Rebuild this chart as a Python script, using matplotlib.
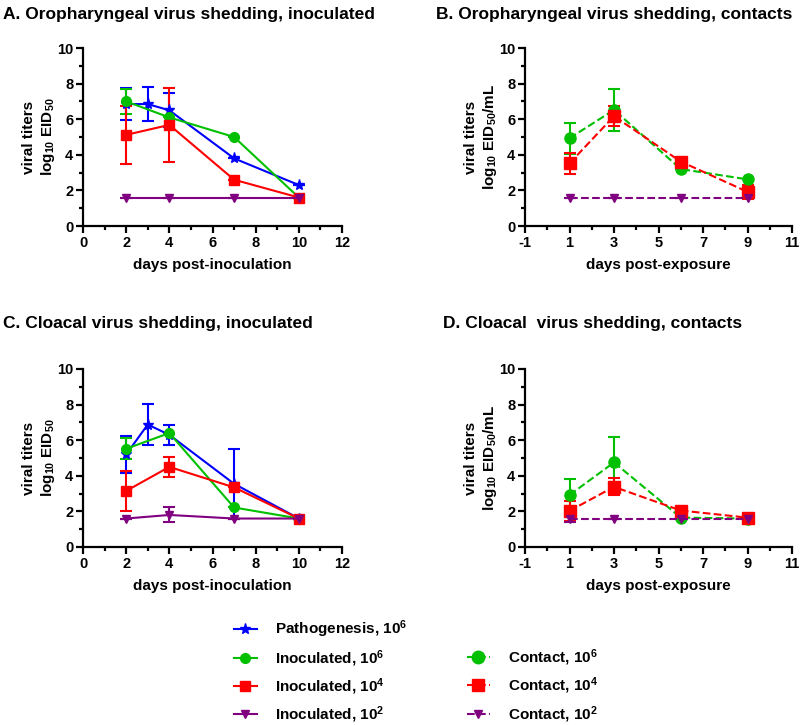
import matplotlib
matplotlib.use('Agg')
import matplotlib.pyplot as plt
from matplotlib.lines import Line2D
from matplotlib.ticker import MultipleLocator

plt.rcParams['font.family'] = ['Liberation Sans', 'DejaVu Sans']
plt.rcParams['font.weight'] = 'bold'
plt.rcParams['mathtext.fontset'] = 'custom'
plt.rcParams['mathtext.default'] = 'bf'
plt.rcParams['mathtext.bf'] = 'Liberation Sans:bold'
plt.rcParams['mathtext.rm'] = 'Liberation Sans:bold'
plt.rcParams['axes.unicode_minus'] = False

BLUE = '#0000ff'
GREEN = '#00c000'
RED = '#ff0000'
PURPLE = '#800080'

# --- data ---
inoc_days = [2, 4, 7, 10]
patho_days = [2, 3, 4, 7, 10]
contact_days = [1, 3, 6, 9]

# A. oropharyngeal, inoculated
a_patho = [6.85, 6.85, 6.5, 3.8, 2.3]
a_patho_err = [0.9, 0.95, 0.95, 0, 0]
a_inoc6 = [7.0, 6.1, 5.0, 1.6]
a_inoc6_err = [0.68, 0, 0, 0]
a_inoc4 = [5.12, 5.68, 2.6, 1.6]
a_inoc4_err = [1.63, 2.1, 0, 0]
a_inoc2 = [1.6, 1.6, 1.6, 1.6]
a_inoc2_err = [0, 0, 0, 0]

# B. oropharyngeal, contacts
b_cont6 = [4.93, 6.52, 3.2, 2.62]
b_cont6_err = [0.88, 1.2, 0, 0]
b_cont4 = [3.52, 6.17, 3.62, 1.92]
b_cont4_err = [0.6, 0.55, 0, 0.38]
b_cont2 = [1.6, 1.6, 1.6, 1.6]
b_cont2_err = [0, 0, 0, 0]

# C. cloacal, inoculated
c_patho = [5.2, 6.88, 6.3, 3.55, 1.6]
c_patho_err = [1.03, 1.13, 0.57, 1.95, 0]
c_inoc6 = [5.52, 6.4, 2.22, 1.6]
c_inoc6_err = [0.6, 0, 0, 0]
c_inoc4 = [3.15, 4.5, 3.35, 1.6]
c_inoc4_err = [1.1, 0.57, 0, 0]
c_inoc2 = [1.6, 1.8, 1.6, 1.6]
c_inoc2_err = [0, 0.42, 0, 0]

# D. cloacal, contacts
d_cont6 = [2.92, 4.75, 1.65, 1.6]
d_cont6_err = [0.88, 1.42, 0, 0]
d_cont4 = [2.03, 3.38, 2.05, 1.65]
d_cont4_err = [0.58, 0.48, 0, 0]
d_cont2 = [1.6, 1.6, 1.6, 1.6]
d_cont2_err = [0.2, 0, 0, 0]

fig = plt.figure(figsize=(8, 7.25), dpi=100)

W = 800.0
H = 725.0
def place(x0, x1, ytop, ybot):
    return fig.add_axes([x0 / W, 1 - ybot / H, (x1 - x0) / W, (ybot - ytop) / H])

axA = place(83, 342, 48, 226)
axB = place(525, 792, 48, 226)
axC = place(83, 342, 369, 547)
axD = place(525, 792, 369, 547)

def series(ax, x, y, err, color, marker, ms, ls):
    ax.errorbar(x, y, yerr=err, color=color, marker=marker, markersize=ms,
                linestyle=ls, linewidth=1.5, elinewidth=1.5, capsize=4,
                capthick=1.5, clip_on=False)

def style(ax, xmin, xmax, xlabel, ylabel):
    ax.set_xlim(xmin, xmax)
    ax.set_ylim(0, 10)
    ax.set_xticks(range(xmin, xmax + 1, 2))
    ax.set_xticks(range(xmin + 1, xmax, 2), minor=True)
    ax.yaxis.set_major_locator(MultipleLocator(2))
    ax.yaxis.set_minor_locator(MultipleLocator(1))
    for s in ['top', 'right']:
        ax.spines[s].set_visible(False)
    for s in ['left', 'bottom']:
        ax.spines[s].set_linewidth(1.6)
    ax.tick_params(which='major', length=5, width=1.6, labelsize=10.5, pad=2)
    ax.tick_params(which='minor', length=3, width=1.6)
    for lab in ax.get_xticklabels() + ax.get_yticklabels():
        lab.set_fontweight('bold')
    ax.set_xlabel(xlabel, fontsize=11, fontweight='bold', labelpad=6)
    ax.set_ylabel(ylabel, fontsize=11, fontweight='bold', labelpad=0)
    ax.patch.set_alpha(0)

ylab_inoc = 'viral titers\nlog$_{10}$ EID$_{50}$'
ylab_cont = 'viral titers\nlog$_{10}$ EID$_{50}$/mL'

# A
series(axA, patho_days, a_patho, a_patho_err, BLUE, '*', 8, '-')
series(axA, inoc_days, a_inoc6, a_inoc6_err, GREEN, 'o', 7, '-')
series(axA, inoc_days, a_inoc4, a_inoc4_err, RED, 's', 7, '-')
series(axA, inoc_days, a_inoc2, a_inoc2_err, PURPLE, 'v', 6, '-')
style(axA, 0, 12, 'days post-inoculation', ylab_inoc)

# B
series(axB, contact_days, b_cont6, b_cont6_err, GREEN, 'o', 8, '--')
series(axB, contact_days, b_cont4, b_cont4_err, RED, 's', 8, '--')
series(axB, contact_days, b_cont2, b_cont2_err, PURPLE, 'v', 6, '--')
style(axB, -1, 11, 'days post-exposure', ylab_cont)

# C
series(axC, patho_days, c_patho, c_patho_err, BLUE, '*', 8, '-')
series(axC, inoc_days, c_inoc6, c_inoc6_err, GREEN, 'o', 7, '-')
series(axC, inoc_days, c_inoc4, c_inoc4_err, RED, 's', 7, '-')
series(axC, inoc_days, c_inoc2, c_inoc2_err, PURPLE, 'v', 6, '-')
style(axC, 0, 12, 'days post-inoculation', ylab_inoc)

# D
series(axD, contact_days, d_cont6, d_cont6_err, GREEN, 'o', 8, '--')
series(axD, contact_days, d_cont4, d_cont4_err, RED, 's', 8, '--')
series(axD, contact_days, d_cont2, d_cont2_err, PURPLE, 'v', 6, '--')
style(axD, -1, 11, 'days post-exposure', ylab_cont)

# panel titles
tkw = dict(fontsize=12.5, fontweight='bold', ha='left', va='center')
fig.text(3 / W, 1 - 15 / H, 'A. Oropharyngeal virus shedding, inoculated', **tkw)
fig.text(436 / W, 1 - 15 / H, 'B. Oropharyngeal virus shedding, contacts', **tkw)
fig.text(3 / W, 1 - 324 / H, 'C. Cloacal virus shedding, inoculated', **tkw)
fig.text(443 / W, 1 - 324 / H, 'D. Cloacal  virus shedding, contacts', **tkw)

# legend (empty first slot in the right column keeps rows aligned)
def h(color, marker, ms, ls):
    return Line2D([], [], color=color, marker=marker, markersize=ms,
                  linestyle=ls, linewidth=1.5)

handles = [h(BLUE, '*', 8, '-'), h(GREEN, 'o', 7, '-'), h(RED, 's', 7, '-'),
           h(PURPLE, 'v', 6, '-'),
           Line2D([], [], linestyle='none'),
           h(GREEN, 'o', 9, '--'), h(RED, 's', 9, '--'), h(PURPLE, 'v', 6, '--')]
labels = ['Pathogenesis, 10$^6$', 'Inoculated, 10$^6$', 'Inoculated, 10$^4$',
          'Inoculated, 10$^2$', 'Contact, 10$^6$', 'Contact, 10$^6$',
          'Contact, 10$^4$', 'Contact, 10$^2$']
leg = fig.legend(handles, labels, ncol=2, frameon=False,
                 loc='upper left', bbox_to_anchor=(220 / W, 1 - 605 / H),
                 fontsize=11, handlelength=1.5, handletextpad=1.2,
                 labelspacing=0.5, columnspacing=3.9)
for t in leg.get_texts():
    t.set_fontweight('bold')
leg.get_texts()[4].set_alpha(0)

fig.savefig('out.png', dpi=100)
